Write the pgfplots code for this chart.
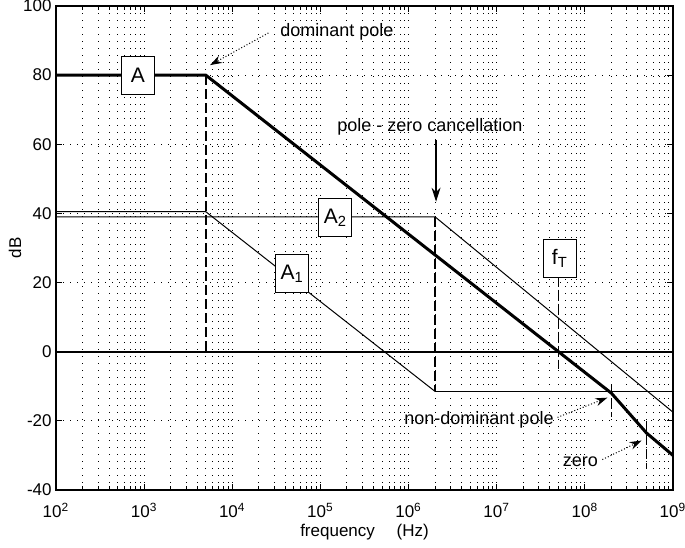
\documentclass[border=0pt]{standalone}
\usepackage{fontspec}
\setmainfont{Liberation Sans}
\usepackage{pgfplots}
\pgfplotsset{compat=1.18}
\usetikzlibrary{arrows.meta,calc}

\begin{document}
\begin{tikzpicture}
\begin{axis}[
    xmode=log,
    width=308.5pt, height=242pt, scale only axis,
    xmin=1e2, xmax=1e9, ymin=-40, ymax=100,
    ytick={-40,-20,0,20,40,60,80,100},
    xtick={1e2,1e3,1e4,1e5,1e6,1e7,1e8,1e9},
    xticklabels={10\textsuperscript{2},10\textsuperscript{3},10\textsuperscript{4},10\textsuperscript{5},
                 10\textsuperscript{6},10\textsuperscript{7},10\textsuperscript{8},10\textsuperscript{9}},
    /pgf/number format/assume math mode=true,
    tick label style={font=\fontsize{8.5}{10}\selectfont},
    yticklabel style={inner xsep=2pt},
    xticklabel style={inner ysep=3pt, yshift=-3.5pt},
    every axis y label/.style={at={(axis description cs:0,0.5)}, xshift=-20.5pt, rotate=90,
        anchor=center, font=\fontsize{8.5}{10}\selectfont},
    every axis x label/.style={at={(axis description cs:0.5,0)}, anchor=center,
        yshift=-21pt, font=\fontsize{8.5}{10}\selectfont},
    xlabel={frequency\quad\ (Hz)}, ylabel={dB},
    xmajorgrids=true, xminorgrids=true, ymajorgrids=true,
    major grid style={black, line width=0.5pt, dash pattern=on 0.5pt off 3pt},
    minor grid style={black, line width=0.5pt, dash pattern=on 0.5pt off 3pt},
    tick align=inside, tick pos=both,
    major tick length=3pt, minor tick length=2pt,
    axis line style={line width=0.7pt},
    every tick/.style={black, line width=0.5pt},
    clip=false,
]
% A (open loop)
\addplot[black, line width=1.5pt] coordinates {
    (1e2,80) (5e3,80) (2e8,-12) (5e8,-23.5) (1e9,-30)
};
% 0 dB line
\addplot[black, line width=1pt] coordinates {(1e2,0) (1e9,0)};
% A1
\addplot[black, line width=0.5pt] coordinates {
    (1e2,40.5) (5e3,40.5) (2e6,-11.5)
};
% A1 flat
\addplot[black, line width=0.8pt] coordinates {(2e6,-11.5) (1e9,-11.5)};
% A2
\addplot[black, line width=0.5pt] coordinates {
    (1e2,39) (2e6,39) (1e9,-17.5)
};
% dashed markers
\addplot[black, line width=0.8pt, dash pattern=on 5pt off 2pt] coordinates {(5e3,80) (5e3,0)};
\addplot[black, line width=0.8pt, dash pattern=on 5pt off 2pt] coordinates {(2e6,39) (2e6,-11.5)};
\addplot[black, line width=0.7pt, dash pattern=on 5pt off 2pt] coordinates {(5e7,22) (5e7,-5)};
\addplot[black, line width=0.7pt, dash pattern=on 5pt off 2pt] coordinates {(2e8,-9.5) (2e8,-19)};
\addplot[black, line width=0.7pt, dash pattern=on 5pt off 2pt] coordinates {(5e8,-20) (5e8,-34)};

% labels in boxes
\tikzset{lbl/.style={draw=black, fill=white, line width=0.5pt, font=\fontsize{10.5}{12}\selectfont,
    minimum width=16.5pt, minimum height=19pt, inner sep=1pt}}
\node[lbl] at (axis cs:8.5e2,80) {A};
\node[lbl] at (axis cs:1.48e5,38.7) {A\textsubscript{2}};
\node[lbl] at (axis cs:4.8e4,22.5) {A\textsubscript{1}};
\node[lbl] at (axis cs:5.2e7,27) {f\textsubscript{T}};

% annotations
\tikzset{ann/.style={font=\fontsize{9}{11}\selectfont, inner sep=1pt}}
\node[ann, anchor=west] at (axis cs:3.3e4,92.5) {dominant pole};
\draw[black, line width=0.5pt, densely dotted, -{Stealth[length=6pt,width=4pt]}]
    (axis cs:2.57e4,92.2) -- (axis cs:5.6e3,82.9);
\node[ann] at (axis cs:1.75e6,65) {pole - zero cancellation};
\draw[black, line width=0.6pt, -{Stealth[length=7pt,width=4.5pt]}]
    (axis cs:2.05e6,61.3) -- (axis cs:2.05e6,43.4);
\node[ann, anchor=east] at (axis cs:4.7e7,-19.7) {non-dominant pole};
\draw[black, line width=0.5pt, densely dotted, -{Stealth[length=6pt,width=4pt]}]
    (axis cs:4.9e7,-19) -- (axis cs:1.8e8,-13.3);
\node[ann, anchor=east] at (axis cs:1.5e8,-31.8) {zero};
\draw[black, line width=0.5pt, densely dotted, -{Stealth[length=6pt,width=4pt]}]
    (axis cs:1.58e8,-31.2) -- (axis cs:4.4e8,-25.7);
\end{axis}
\pgfresetboundingbox
\path ($(current axis.south west)+(-28pt,-29pt)$) rectangle ($(current axis.north east)+(6pt,3pt)$);
\end{tikzpicture}
\end{document}
